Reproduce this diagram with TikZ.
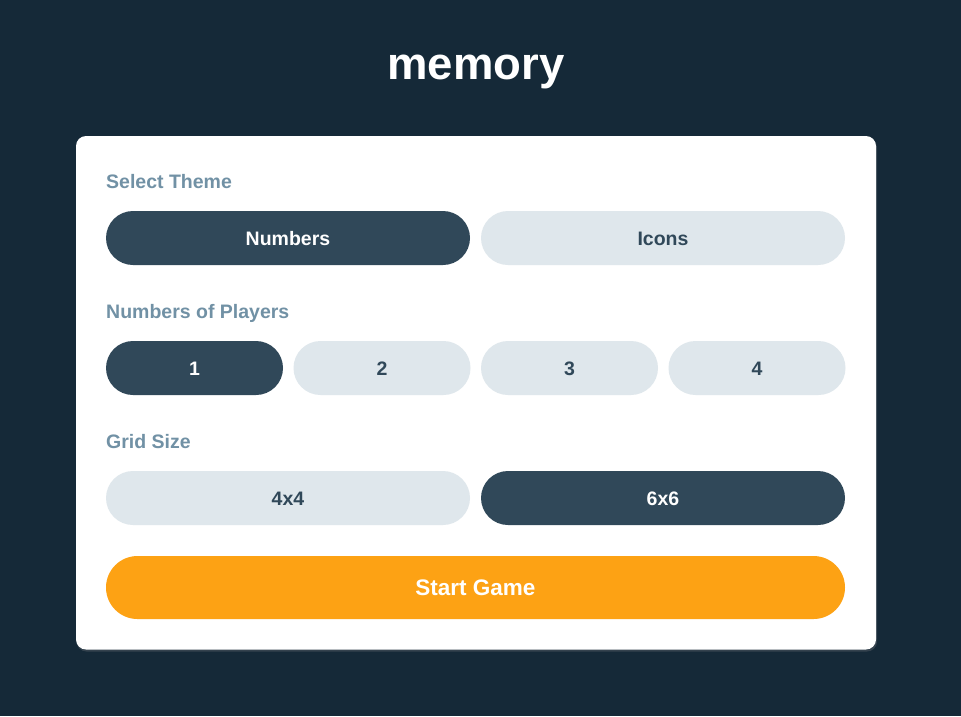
\documentclass[tikz,border=0pt]{standalone}
\usepackage{fontspec}
\setmainfont{Liberation Sans}
\usetikzlibrary{positioning}
\definecolor{navy}{HTML}{152938}
\definecolor{slate}{HTML}{304859}
\definecolor{mist}{HTML}{DFE7EC}
\definecolor{steel}{HTML}{7191A5}
\definecolor{amber}{HTML}{FDA214}
\definecolor{cardshade}{HTML}{34424E}

\begin{document}
\begin{tikzpicture}[x=1pt,y=-1pt]
\tikzset{btn/.style={rounded corners=27pt,minimum width=364pt,minimum height=54pt,inner sep=0pt,
  text height=14pt,text depth=0pt,font=\fontsize{19.5}{22}\selectfont\bfseries},
  dark/.style={btn,fill=slate,text=white},
  light/.style={btn,fill=mist,text=slate},
  small/.style={minimum width=177pt},
  caption/.style={anchor=base west,inner sep=0pt,text=steel,font=\fontsize{19.5}{22}\selectfont\bfseries}}
\fill[navy] (0,0) rectangle (961,716);
\fill[cardshade,rounded corners=10pt] (76.5,137.5) rectangle (877,651.5);
\fill[white,rounded corners=10pt] (76,136) rectangle (876,649.5);
\node[anchor=base,inner sep=0pt,text=white,font=\fontsize{45.5}{50}\selectfont\bfseries] (title) at (476,79) {memory};

\node[caption] (theme) at (106,188) {Select Theme};
\node[dark] (numbers) at (288,238) {Numbers};
\node[light] (icons) at (663,238) {Icons};

\node[caption] (players) at (106,318) {Numbers of Players};
\foreach\p[count=\i] in {194.5,382,569.5,757} {
\ifnum\i=1
\node[dark,small] (p\i) at (\p,368) {\i};
\else
\node[light,small] (p\i) at (\p,368) {\i};
\fi }

\node[caption] (grid) at (106,448) {Grid Size};
\node[light] (four) at (288,498) {4x4};
\node[dark] (six) at (663,498) {6x6};

\node[btn,fill=amber,text=white,minimum width=739pt,minimum height=63pt,rounded corners=31.5pt,
  font=\fontsize{22.5}{26}\selectfont\bfseries,text height=16pt] (start) at (475.5,587.5) {Start Game};

\end{tikzpicture}
\end{document}
